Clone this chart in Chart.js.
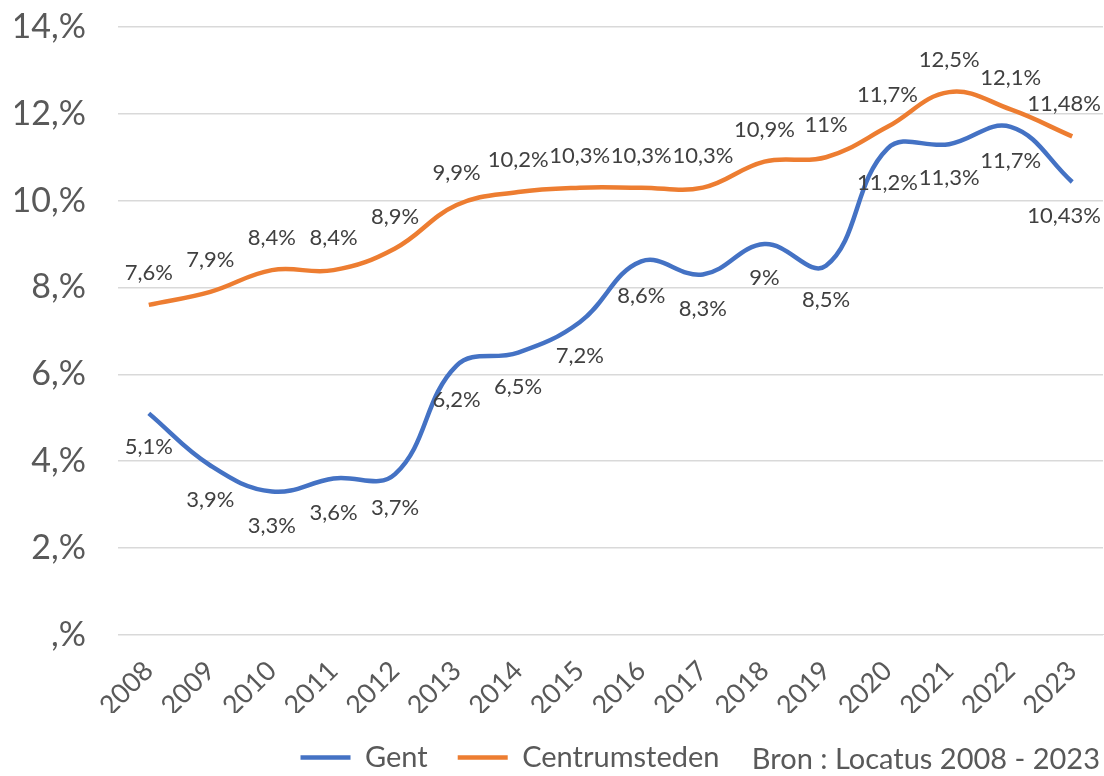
<!DOCTYPE html>
<html lang="nl">
<head>
    <meta charset="UTF-8">
    <title>Gent vs Centrumsteden</title>
    <script src="https://cdn.jsdelivr.net/npm/chart.js"></script>
    <style>
        body {
            margin: 0;
            background: #fff;
            font-family: Lato, sans-serif;
        }
        .wrap {
            position: relative;
            width: 1104px;
            height: 776px;
        }
        .bron {
            position: absolute;
            right: 4px;
            bottom: 1px;
            font-size: 29px;
            color: #595959;
        }
    </style>
</head>
<body>
    <div class="wrap">
        <canvas id="chart"></canvas>
        <div class="bron">Bron : Locatus 2008 - 2023</div>
    </div>
    <script>
        // Data
        const years = ['2008', '2009', '2010', '2011', '2012', '2013', '2014', '2015', '2016', '2017', '2018', '2019', '2020', '2021', '2022', '2023'];
        const gent = [5.1, 3.9, 3.3, 3.6, 3.7, 6.2, 6.5, 7.2, 8.6, 8.3, 9, 8.5, 11.2, 11.3, 11.7, 10.43];
        const centrumsteden = [7.6, 7.9, 8.4, 8.4, 8.9, 9.9, 10.2, 10.3, 10.3, 10.3, 10.9, 11, 11.7, 12.5, 12.1, 11.48];
        const yTicks = [0, 2, 4, 6, 8, 10, 12, 14];

        const fmt = v => String(v).replace('.', ',') + '%';

        // labels boven (oranje) en onder (blauw) de lijn
        const pointLabels = {
            id: 'pointLabels',
            afterDatasetsDraw(chart) {
                const ctx = chart.ctx;
                ctx.save();
                ctx.font = '22px Lato, sans-serif';
                ctx.fillStyle = '#404040';
                ctx.textAlign = 'center';
                ctx.textBaseline = 'middle';
                chart.data.datasets.forEach((ds, i) => {
                    const meta = chart.getDatasetMeta(i);
                    const off = i === 0 ? 34 : -32;
                    meta.data.forEach((pt, j) => {
                        const txt = fmt(ds.data[j]);
                        const w = ctx.measureText(txt).width;
                        let x = Math.min(pt.x, chart.width - w / 2 - 3);
                        ctx.fillText(txt, x, pt.y + off);
                    });
                });
                ctx.restore();
            }
        };

        // legende iets naar links, zoals in het origineel
        const shiftLegend = {
            id: 'shiftLegend',
            afterLayout(chart) {
                chart.legend.left -= 49;
                chart.legend.right -= 49;
            }
        };

        new Chart(document.getElementById('chart'), {
            type: 'line',
            data: {
                labels: years,
                datasets: [{
                    label: 'Gent',
                    data: gent,
                    borderColor: '#4472C4',
                    backgroundColor: '#4472C4',
                    borderWidth: 4.5,
                    pointRadius: 0,
                    tension: 0.4
                }, {
                    label: 'Centrumsteden',
                    data: centrumsteden,
                    borderColor: '#ED7D31',
                    backgroundColor: '#ED7D31',
                    borderWidth: 4.5,
                    pointRadius: 0,
                    tension: 0.4
                }]
            },
            options: {
                responsive: true,
                maintainAspectRatio: false,
                animation: false,
                layout: { padding: { top: 27, left: 15, right: 1, bottom: -6 } },
                scales: {
                    x: {
                        offset: true,
                        grid: { display: false },
                        border: { display: true, color: '#d9d9d9' },
                        afterFit: axis => {
                            axis.height -= 21;
                            axis.paddingLeft = 0;
                            axis.paddingRight = 0;
                        },
                        ticks: {
                            color: '#595959',
                            font: { family: 'Lato', size: 27 },
                            minRotation: 45,
                            maxRotation: 45,
                            padding: 12
                        }
                    },
                    y: {
                        min: 0,
                        max: 14,
                        afterBuildTicks: axis => { axis.ticks = yTicks.map(v => ({ value: v })); },
                        afterFit: axis => {
                            axis.width = 103;
                            axis.paddingTop = 0;
                            axis.paddingBottom = 0;
                        },
                        grid: { color: '#d9d9d9', lineWidth: 1.5, drawTicks: false },
                        border: { display: false },
                        ticks: {
                            color: '#595959',
                            font: { family: 'Lato', size: 34 },
                            padding: 32,
                            callback: v => (v === 0 ? '' : v) + ',%'
                        }
                    }
                },
                plugins: {
                    legend: {
                        position: 'bottom',
                        labels: {
                            usePointStyle: true,
                            pointStyle: 'line',
                            pointStyleWidth: 50,
                            boxWidth: 50,
                            color: '#595959',
                            font: { family: 'Lato', size: 29 },
                            padding: 30
                        }
                    },
                    tooltip: { enabled: false }
                }
            },
            plugins: [pointLabels, shiftLegend]
        });
    </script>
</body>
</html>
